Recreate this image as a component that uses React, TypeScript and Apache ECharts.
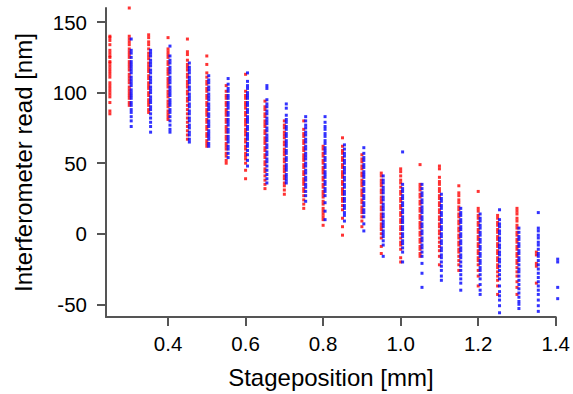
import React, { useEffect, useRef } from "react";
import * as echarts from "echarts";

// Stage positions (mm) of the measurement columns
const redStages = [0.25, 0.3, 0.35, 0.4, 0.45, 0.5, 0.55, 0.6, 0.65, 0.7, 0.75, 0.8, 0.85, 0.9, 0.95, 1.0, 1.05, 1.1, 1.15, 1.2, 1.25, 1.3, 1.35];
const blueStages = [0.3, 0.35, 0.4, 0.45, 0.5, 0.55, 0.6, 0.65, 0.7, 0.75, 0.8, 0.85, 0.9, 0.95, 1.0, 1.05, 1.1, 1.15, 1.2, 1.25, 1.3, 1.35, 1.4];
const blueOffset = 0.005;

// Interferometer reads (nm), red run
const r025 = [140, 139, 137, 134, 130, 128, 126, 125, 122, 121, 119, 117, 115, 113, 111, 107, 105, 103, 101, 99, 97, 93, 87, 85];
const r030 = [160, 140, 138, 136, 134, 131, 129, 127, 125, 122, 120, 118, 116, 113, 111, 109, 107, 104, 102, 100, 98, 96, 93, 91];
const r035 = [141, 139, 136, 134, 131, 128, 126, 124, 121, 119, 117, 115, 112, 110, 107, 105, 103, 100, 98, 95, 93, 91, 88, 86];
const r040 = [139, 131, 129, 127, 125, 122, 120, 117, 115, 113, 110, 108, 106, 104, 101, 99, 97, 94, 92, 90, 87, 85, 83, 81];
const r045 = [138, 129, 127, 123, 120, 118, 116, 113, 111, 108, 106, 104, 101, 99, 96, 94, 91, 88, 85, 82, 79, 76, 73, 70, 67];
const r050 = [126, 120, 114, 111, 108, 106, 103, 101, 98, 96, 93, 91, 88, 86, 84, 81, 79, 76, 74, 71, 69, 66, 64, 62];
const r055 = [105, 101, 98, 96, 93, 91, 88, 86, 84, 81, 79, 76, 74, 72, 69, 67, 64, 62, 60, 57, 55, 52, 50];
const r060 = [113, 101, 98, 96, 93, 91, 89, 86, 84, 81, 79, 77, 74, 72, 70, 67, 65, 62, 60, 57, 55, 53, 50, 45, 39];
const r065 = [94, 90, 88, 85, 83, 80, 78, 76, 73, 71, 68, 66, 64, 61, 59, 56, 54, 51, 49, 46, 44, 41, 38, 35, 32];
const r070 = [80, 77, 75, 72, 70, 68, 65, 63, 60, 58, 56, 53, 51, 48, 46, 44, 41, 39, 36, 34, 31, 28];
const r075 = [80, 74, 71, 69, 66, 64, 61, 59, 56, 54, 52, 49, 47, 44, 42, 39, 37, 35, 32, 30, 27, 24, 21, 18];
const r080 = [62, 60, 57, 55, 52, 50, 47, 45, 43, 40, 38, 35, 33, 30, 28, 26, 23, 21, 18, 16, 14, 12, 10, 6];
const r085 = [68, 62, 59, 57, 54, 52, 49, 47, 44, 42, 40, 37, 35, 32, 30, 28, 25, 23, 20, 17, 11, 5, -1];
const r090 = [56, 53, 51, 48, 46, 43, 41, 38, 36, 34, 31, 29, 27, 24, 22, 19, 17, 15, 12, 9, 5];
const r095 = [43, 41, 38, 36, 34, 31, 29, 26, 24, 22, 19, 17, 14, 12, 10, 7, 5, 3, 0, -3, -9, -14];
const r100 = [46, 44, 41, 38, 36, 33, 30, 28, 25, 23, 20, 18, 15, 13, 10, 8, 5, 3, 0, -3, -6, -8, -11, -17, -20];
const r105 = [49, 35, 33, 31, 28, 26, 23, 21, 18, 16, 13, 11, 8, 6, 4, 1, -1, -4, -6, -9, -11, -14, -16];
const r110 = [48, 46, 40, 37, 35, 32, 30, 27, 25, 22, 20, 17, 15, 12, 10, 7, 5, 2, 0, -3, -6, -9, -12, -16, -22];
const r115 = [34, 29, 27, 24, 22, 19, 17, 14, 12, 9, 7, 4, 2, -1, -3, -6, -8, -11, -13, -16, -19, -22, -26];
const r120 = [30, 18, 16, 13, 11, 8, 6, 3, 1, -2, -4, -7, -9, -12, -14, -17, -19, -22, -26, -30, -37];
const r125 = [13, 11, 8, 6, 3, 1, -2, -4, -7, -9, -12, -14, -17, -19, -22, -24, -27, -30, -33, -37, -43];
const r130 = [18, 16, 14, 11, 9, 6, 4, 1, -1, -4, -6, -9, -11, -14, -16, -19, -21, -24, -27, -30, -34, -38, -43];
const r135 = [-13, -15, -21, -23, -35];
const redReads = [r025, r030, r035, r040, r045, r050, r055, r060, r065, r070, r075, r080, r085, r090, r095, r100, r105, r110, r115, r120, r125, r130, r135];

// Interferometer reads (nm), blue run
const b030 = [138, 130, 128, 125, 122, 120, 118, 116, 114, 111, 109, 107, 105, 102, 100, 98, 96, 93, 91, 88, 86, 83, 80, 76];
const b035 = [130, 128, 126, 123, 121, 119, 116, 114, 111, 109, 107, 104, 102, 100, 97, 95, 93, 90, 88, 85, 82, 79, 76, 72];
const b040 = [133, 126, 123, 121, 118, 116, 114, 111, 109, 107, 104, 102, 100, 98, 95, 93, 91, 88, 86, 83, 80, 77, 74, 72];
const b045 = [121, 118, 116, 114, 111, 109, 107, 104, 102, 99, 97, 95, 92, 90, 87, 85, 82, 80, 77, 75, 72, 70, 67, 65];
const b050 = [112, 109, 107, 104, 102, 99, 97, 95, 92, 90, 88, 85, 83, 80, 78, 76, 73, 71, 69, 67, 64, 62];
const b055 = [110, 106, 103, 101, 98, 96, 93, 91, 89, 86, 84, 81, 79, 77, 74, 72, 69, 67, 65, 62, 60, 57, 54];
const b060 = [114, 108, 105, 103, 100, 98, 96, 93, 91, 88, 86, 83, 81, 79, 76, 74, 71, 69, 67, 64, 62, 59, 56, 52, 48];
const b065 = [105, 103, 95, 92, 90, 87, 85, 82, 80, 78, 75, 73, 70, 68, 66, 63, 61, 58, 56, 53, 51, 48, 45, 42, 39, 36];
const b070 = [92, 89, 84, 81, 79, 76, 74, 71, 69, 66, 64, 62, 59, 57, 54, 52, 49, 47, 45, 42, 40, 38, 36];
const b075 = [83, 80, 77, 75, 72, 70, 67, 65, 62, 60, 57, 55, 53, 50, 48, 45, 43, 40, 38, 35, 33, 30, 27, 23];
const b080 = [83, 79, 76, 74, 71, 69, 66, 64, 61, 59, 57, 54, 52, 49, 47, 44, 42, 40, 37, 35, 32, 30, 27, 22, 16, 10];
const b085 = [63, 60, 57, 55, 52, 50, 47, 45, 43, 40, 38, 35, 33, 30, 28, 25, 23, 20, 18, 15, 13, 9];
const b090 = [61, 57, 54, 52, 49, 47, 44, 42, 40, 37, 35, 32, 30, 27, 25, 22, 20, 17, 15, 12, 7, 2];
const b095 = [41, 38, 36, 33, 31, 29, 26, 24, 21, 19, 17, 14, 12, 9, 7, 5, 2, 0, -2, -5, -8, -16];
const b100 = [58, 35, 32, 30, 27, 25, 22, 20, 17, 15, 12, 10, 8, 5, 3, 0, -2, -5, -7, -10, -13, -20];
const b105 = [35, 32, 29, 27, 24, 22, 19, 17, 15, 12, 10, 7, 5, 2, 0, -3, -5, -8, -10, -13, -16, -21, -28, -38];
const b110 = [28, 25, 23, 20, 18, 15, 13, 10, 8, 5, 3, 0, -2, -5, -7, -10, -12, -15, -17, -20, -23, -26, -30, -33];
const b115 = [18, 15, 13, 10, 8, 5, 3, 0, -2, -5, -7, -10, -12, -15, -17, -20, -23, -26, -29, -32, -35, -40];
const b120 = [14, 11, 9, 6, 4, 1, -1, -4, -6, -9, -11, -14, -16, -19, -21, -24, -26, -29, -32, -36, -40, -43];
const b125 = [17, 10, 7, 5, 2, 0, -3, -5, -8, -10, -13, -15, -18, -20, -23, -26, -29, -32, -37, -41, -44, -47, -51, -56];
const b130 = [4, 1, -2, -4, -7, -9, -12, -14, -17, -19, -22, -25, -27, -30, -33, -36, -39, -42, -45, -48, -50, -53];
const b135 = [15, 4, 2, -1, -3, -6, -8, -11, -14, -16, -19, -22, -25, -28, -31, -34, -37, -40, -43, -47, -51, -55];
const b140 = [-18, -20, -38, -46];
const blueReads = [b030, b035, b040, b045, b050, b055, b060, b065, b070, b075, b080, b085, b090, b095, b100, b105, b110, b115, b120, b125, b130, b135, b140];

const xTicks = [0.4, 0.6, 0.8, 1.0, 1.2, 1.4];
const yTicks = [-50, 0, 50, 100, 150];

function toPoints(stages: number[], reads: number[][], offset: number) {
  const pts: number[][] = [];
  stages.forEach((s, i) => {
    reads[i].forEach((v) => pts.push([s + offset, v]));
  });
  return pts;
}

export default function App() {
  const ref = useRef<HTMLDivElement>(null);
  useEffect(() => {
    if (!ref.current) return;
    const chart = echarts.init(ref.current, undefined, { renderer: "svg" });
    const font = "'Liberation Sans', Arial, Helvetica, sans-serif";
    const axisLine = { show: true, onZero: false, lineStyle: { color: "#555", width: 2 } };
    chart.setOption({
      animation: false,
      backgroundColor: "#fff",
      grid: { left: 106, right: 15, top: 8, bottom: 77, containLabel: false },
      xAxis: {
        type: "value",
        min: 0.24,
        max: 1.4,
        name: "Stageposition [mm]",
        nameLocation: "middle",
        nameGap: 48,
        nameTextStyle: { fontSize: 24, color: "#000", fontFamily: font },
        axisLine,
        axisTick: { show: true, length: 9, inside: false, customValues: xTicks, lineStyle: { color: "#555", width: 2 } },
        axisLabel: {
          customValues: xTicks,
          fontSize: 20.5,
          color: "#000",
          fontFamily: font,
          margin: 16,
          formatter: (v: number) => v.toFixed(1),
        },
        splitLine: { show: false },
      },
      yAxis: {
        type: "value",
        min: -59,
        max: 160,
        name: "Interferometer read [nm]",
        nameLocation: "middle",
        nameGap: 71,
        nameRotate: 90,
        nameTextStyle: { fontSize: 24, color: "#000", fontFamily: font },
        axisLine,
        axisTick: { show: true, length: 9, inside: false, customValues: yTicks, lineStyle: { color: "#555", width: 2 } },
        axisLabel: {
          customValues: yTicks,
          fontSize: 20.5,
          color: "#000",
          fontFamily: font,
          margin: 19,
        },
        splitLine: { show: false },
      },
      series: [
        {
          type: "scatter",
          symbol: "rect",
          symbolSize: 3,
          clip: false,
          itemStyle: { color: "#ff0000" },
          data: toPoints(redStages, redReads, 0),
        },
        {
          type: "scatter",
          symbol: "rect",
          symbolSize: 3,
          clip: false,
          itemStyle: { color: "#0000ff" },
          data: toPoints(blueStages, blueReads, blueOffset),
        },
      ],
    });
    return () => chart.dispose();
  }, []);
  return <div ref={ref} style={{ width: 573, height: 394, position: "absolute", left: 0, top: 0 }} />;
}
